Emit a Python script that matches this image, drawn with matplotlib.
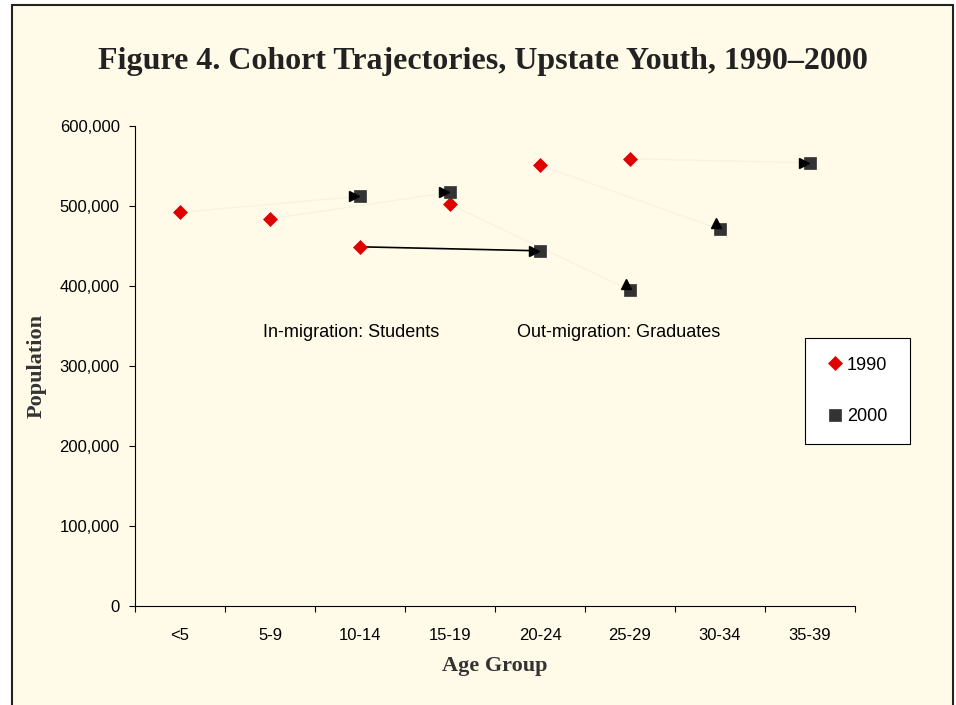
import matplotlib
matplotlib.use("Agg")
import matplotlib.pyplot as plt
from matplotlib.patches import Rectangle
from matplotlib.ticker import FuncFormatter, FixedLocator
from matplotlib.transforms import offset_copy
import numpy as np

age_groups = ["<5", "5-9", "10-14", "15-19", "20-24", "25-29", "30-34", "35-39"]
pop_1990 = [492000, 484000, 449000, 502000, 551000, 559000]   # <5 .. 25-29
pop_2000 = [512000, 517000, 444000, 395000, 471000, 554000]   # 10-14 .. 35-39
annotations = ["In-migration: Students", "Out-migration: Graduates"]

cream = "#FFFBE8"
red = "#E00000"
dark = "#333333"

fig = plt.figure(figsize=(9.56, 7.05), dpi=100, facecolor="white")
fig.patches.append(Rectangle((12 / 956, -0.01), 941 / 956, 1 - 5 / 705 + 0.01,
                             transform=fig.transFigure, facecolor=cream,
                             edgecolor="#222222", lw=1.5, zorder=-5))

ax = fig.add_axes([135 / 956, 1 - 606 / 705, 720 / 956, 480 / 705])
ax.set_facecolor("none")
ax.set_zorder(2)

x90 = np.arange(len(pop_1990))
x00 = np.arange(len(pop_2000)) + 2

# cohort arrows (1990 -> 2000, ten years = two age groups)
head_dirs = [">", ">", ">", "^", "^", ">"]
head_shift = {">": (-4.3, 0), "^": (-3, 4.5)}
for i in range(len(pop_1990)):
    dark_line = i == 2
    dx, dy = head_shift[head_dirs[i]]
    tr = offset_copy(ax.transData, fig=fig, x=dx, y=dy, units="points")
    # line from 1990 point to arrowhead
    p0 = ax.transData.transform((x90[i], pop_1990[i]))
    p1 = tr.transform((x00[i], pop_2000[i]))
    q0, q1 = ax.transData.inverted().transform([p0, p1])
    ax.plot([q0[0], q1[0]], [q0[1], q1[1]],
            color="black" if dark_line else "#F7F3E2", lw=1.2 if dark_line else 1,
            zorder=1)
    ax.plot(x00[i], pop_2000[i], marker=head_dirs[i], color="black", ms=7.5,
            transform=tr, zorder=4, linestyle="none")

ax.plot(x90, pop_1990, linestyle="none", marker="D", ms=6.8, color=red,
        mec=red, mew=0.5, label="1990", zorder=3)
ax.plot(x00, pop_2000, linestyle="none", marker="s", ms=9, color=dark,
        mec=dark, mew=0.5, label="2000", zorder=3)

ax.text(0.92, 342000, annotations[0], fontsize=13, family="Liberation Sans",
        va="center", ha="left")
ax.text(3.74, 342000, annotations[1], fontsize=13, family="Liberation Sans",
        va="center", ha="left")

ax.set_xlim(-0.5, len(age_groups) - 0.5)
ax.set_ylim(0, 600000)
ax.xaxis.set_major_locator(FixedLocator(np.arange(len(age_groups) + 1) - 0.5))
ax.xaxis.set_minor_locator(FixedLocator(np.arange(len(age_groups))))
ax.set_xticklabels([], minor=False)
ax.set_xticklabels(age_groups, minor=True)
ax.tick_params(axis="x", which="major", direction="out", length=4, width=0.8)
ax.tick_params(axis="x", which="minor", length=0, pad=15.5, labelsize=12)
ax.set_yticks(np.arange(0, 600001, 100000))
ax.yaxis.set_major_formatter(FuncFormatter(lambda v, p: f"{int(v):,}"))
ax.tick_params(axis="y", direction="out", length=4, width=0.8, pad=7, labelsize=12)
for lab in ax.get_xticklabels(minor=True) + ax.get_yticklabels():
    lab.set_family("Liberation Sans")

for s in ["top", "right"]:
    ax.spines[s].set_visible(False)
for s in ["left", "bottom"]:
    ax.spines[s].set_linewidth(0.8)

ax.set_xlabel("Age Group", family="Liberation Serif", fontweight="bold",
              fontsize=16, color="#333333", labelpad=10)
fig.text(37 / 956, 1 - 366 / 705, "Population", rotation=90, family="Liberation Serif",
         fontweight="bold", fontsize=16, color="#333333", ha="center", va="center")

fig.text(483 / 956, 1 - 62 / 705, "Figure 4. Cohort Trajectories, Upstate Youth, 1990\u20132000",
         family="Liberation Serif", fontweight="bold", fontsize=23, color="#222222",
         ha="center", va="center")

leg = fig.legend(loc="upper left",
                 bbox_to_anchor=(805 / 956, 1 - 440 / 705, 105 / 956, 102 / 705),
                 mode="expand",
                 prop={"family": "Liberation Sans", "size": 13},
                 frameon=True, fancybox=False, edgecolor="black", facecolor="white",
                 framealpha=1, borderpad=1.03, labelspacing=1.92, handlelength=1.3,
                 handletextpad=0.0, borderaxespad=0)
leg.get_frame().set_linewidth(0.8)

fig.savefig("out.png", dpi=100, facecolor="white")
